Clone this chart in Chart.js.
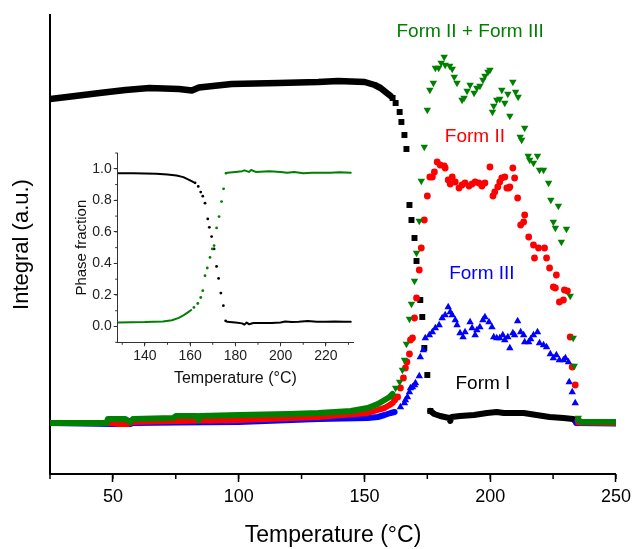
<!DOCTYPE html>
<html><head><meta charset="utf-8">
<script src="https://cdn.jsdelivr.net/npm/chart.js@4.4.1/dist/chart.umd.min.js"></script>
<style>
html,body{margin:0;padding:0;background:#fff;}
#wrap{position:relative;width:635px;height:549px;overflow:hidden;}
#main{position:absolute;left:0;top:0;}
#inset{position:absolute;left:40px;top:140px;}
</style></head><body>
<div id="wrap">
<canvas id="main" width="635" height="549" style="width:635px;height:549px"></canvas>
<canvas id="inset" width="330" height="260" style="width:330px;height:260px"></canvas>
</div>
<script>
const FONT = "'Liberation Sans', Arial, Helvetica, sans-serif";
const GREEN = '#008000', RED = '#ff0000', BLUE = '#0000ff', BLACK = '#000000';

// ---- Tick labels ----
const mainXTicks = [50, 100, 150, 200, 250];
const insetXTicks = [140, 160, 180, 200, 220];
const insetYTicks = [0.0, 0.2, 0.4, 0.6, 0.8, 1.0];

// ---- Main chart data: [Temperature (°C), Integral (a.u.)] ----
const formI_low = [[25,375],[35,378],[44.7,381],[55,384],[64.5,386],[76.3,385],[81.4,383.5],[84.2,386.5],[97.2,390],[115.8,391],[131.6,392],[139.5,393],[150.1,392],[154.1,389],[156.4,386],[158.4,382],[160.4,378]];
const formI_pts = [[161.2,376],[162.4,371],[164.0,362],[164.7,352],[165.9,339],[166.7,325],[167.9,269],[168.7,254],[169.9,236],[170.7,213],[172.2,174],[173.0,157],[173.8,126],[175.0,99],[176.2,63]];
const formI_high = [[176.2,63],[177.8,60],[180.1,58],[183.7,56],[184.1,53],[184.6,57],[188.0,58],[193.6,59],[198.7,61],[202.6,62],[205.4,61],[210.5,61],[213.3,61],[218.4,59],[223.6,57],[229.1,56],[233.0,55],[234.2,52],[235,51]];

const mix_low = [[25,51],[47.5,51],[48,55],[55,55],[57,52],[58,55],[74,56],[75,58],[83.5,58],[84,54],[84.5,58],[100,59],[120,60],[131.6,61],[144.6,63],[151.3,66],[155.3,70],[158.0,74],[160.0,77],[161.2,80]];
const mix_pts = [[162.4,86],[164.0,92],[165.1,104],[165.9,114],[166.7,130],[167.9,155],[168.7,170],[169.9,193],[170.7,221],[171.8,253],[172.6,293],[173.8,327],[175.0,364],[176.0,384],[177.4,391],[178.2,406],[179.5,406],[180.5,411],[181.7,417],[182.1,409],[183.9,408],[184.9,405],[185.7,397],[186.8,391],[188.8,374],[189.6,376],[190.8,383],[192.0,389],[193.6,381],[194.7,386],[195.9,388],[197.1,394],[197.9,398],[199.1,402],[199.9,404],[200.9,362],[201.4,368],[202.6,374],[203.8,375],[204.6,384],[205.8,371],[207.0,380],[207.8,358],[209.0,392],[210.1,382],[211.1,377],[211.9,337],[212.5,334],[213.7,346],[215.1,318],[215.7,314],[217.2,311],[218.8,318],[219.6,304],[221.2,304],[223.2,291],[224.1,274],[225.1,252],[225.9,246],[227.1,268],[228.3,232],[230.3,245],[231.8,178],[233.0,136],[233.4,108],[235.0,56]];
const mix_high = [[235.0,54],[236,52],[250,52]];

const formII_low = [[25,51],[50,51],[52,50],[56,50],[58,52],[75,53],[100,54],[131.6,57],[151.3,61],[155.3,64],[158.0,66],[160,69],[161.2,71]];
const formII_pts = [[162.0,74],[163.2,77],[164.3,86],[165.5,96],[166.3,106],[166.9,112],[167.9,120],[168.3,134],[169.1,136],[169.9,156],[170.7,176],[171.8,204],[172.6,226],[173.8,254],[175.0,278],[176.0,297],[177.0,297],[177.8,302],[178.9,312],[180.1,309],[181.7,308],[182.1,306],[183.3,294],[184.1,290],[184.9,297],[186.1,292],[187.6,286],[188.8,289],[190.0,291],[191.6,288],[192.8,290],[194.0,292],[195.5,291],[196.7,288],[197.9,291],[199.9,307],[201.1,278],[201.8,282],[203.0,287],[203.8,292],[204.6,296],[205.8,297],[206.6,286],[207.4,286],[207.8,287],[209.0,306],[209.7,296],[210.9,276],[212.1,249],[213.3,252],[213.7,259],[215.3,237],[217.2,229],[217.6,216],[219.2,226],[221.6,226],[222.4,216],[223.6,206],[225.1,187],[225.9,186],[226.3,199],[227.5,172],[229.1,174],[229.5,184],[230.7,183],[231.8,137],[232.6,107],[233.8,89],[235.0,54]];
const formII_high = [[235,51.5],[250,51]];

const formIII_low = [[25,51],[50,50],[57,50],[58,51],[75,51.5],[100,52],[131.6,55],[151.3,56],[155.3,57],[158.0,59],[160.4,61],[162,62]];
const formIII_pts = [[164.3,67],[165.9,71],[166.3,74],[167.1,77],[167.9,82],[168.3,86],[169.1,87],[169.9,89],[170.3,91],[171.8,98],[172.2,117],[173.4,124],[174.2,136],[175.8,139],[177.0,142],[178.2,146],[179.7,149],[180.9,156],[182.1,159],[183.3,167],[184.1,162],[184.9,159],[186.1,154],[186.8,149],[188.0,141],[189.2,137],[190.0,142],[192.0,152],[192.8,146],[194.0,139],[194.7,144],[195.9,147],[197.1,154],[197.9,157],[199.5,152],[200.7,147],[201.4,137],[202.6,136],[203.8,136],[205.0,139],[205.8,134],[207.0,137],[207.8,126],[209.0,141],[209.7,139],[210.9,153],[212.1,142],[213.3,139],[213.7,132],[215.3,132],[216.1,135],[217.2,139],[218.8,142],[219.6,131],[221.2,129],[222.4,127],[223.9,120],[225.1,116],[226.3,119],[227.5,114],[229.1,114],[229.9,116],[231.1,112],[231.4,92],[232.6,82],[233.8,71],[234.2,54]];
const formIII_high = [[234.2,51],[250,50.5]];

// ---- Inset data: [Temperature (°C), Phase fraction] ----
const insetI_low = [[128.3,0.972],[135,0.972],[140,0.970],[145,0.968],[150,0.963],[154,0.957],[157,0.947],[160,0.926],[161.5,0.915]];
const insetI_pts = [[162.2,0.911],[163.6,0.888],[164.7,0.852],[165.6,0.826],[166.6,0.782],[167.8,0.682],[168.5,0.629],[169.5,0.570],[170.6,0.492],[171.7,0.381],[172.6,0.305],[173.6,0.212],[174.7,0.132],[175.7,0.036]];
const insetI_high = [[176.3,0.030],[180,0.025],[183,0.020],[184,0.012],[185,0.025],[186,0.015],[188,0.022],[192,0.022],[196,0.022],[200,0.025],[202,0.032],[205,0.028],[208,0.030],[212,0.035],[216,0.030],[220,0.030],[224,0.032],[228,0.030],[231,0.030]];
const insetMix_low = [[128.3,0.026],[140,0.028],[148,0.032],[152,0.040],[155,0.055],[157,0.070],[159,0.090],[160.5,0.105]];
const insetMix_pts = [[161.7,0.121],[163.4,0.146],[164.7,0.184],[165.6,0.227],[166.6,0.322],[167.6,0.371],[168.8,0.438],[169.8,0.492],[170.6,0.513],[171.7,0.625],[172.8,0.697],[173.9,0.792],[174.8,0.873],[175.9,0.972]];
const insetMix_high = [[176.5,0.975],[180,0.980],[183,0.985],[184,0.990],[186,0.980],[187,0.992],[189,0.980],[195,0.985],[200,0.980],[203,0.975],[206,0.980],[210,0.972],[214,0.975],[218,0.975],[222,0.975],[226,0.978],[231,0.975]];

// ---- Text labels ----
const formLabels = [
  {text:'Form II + Form III', x:192.0, y:442, color:GREEN},
  {text:'Form II', x:193.9, y:337, color:RED},
  {text:'Form III', x:196.7, y:200, color:BLUE},
  {text:'Form I', x:197.1, y:90, color:BLACK}
];

const toXY = a => a.map(p => ({x:p[0], y:p[1]}));
const toTicks = a => a.map(v => ({value:v}));
function lineDs(data, color, w){
  return {data:toXY(data), showLine:true, borderColor:color, backgroundColor:color, borderWidth:w, pointRadius:0, pointHoverRadius:0, tension:0, borderCapStyle:'round', borderJoinStyle:'round'};
}
function markDs(data, color, style, r, rot){
  return {data:toXY(data), showLine:false, borderColor:color, backgroundColor:color, pointBackgroundColor:color, pointBorderColor:color, pointBorderWidth:0, pointStyle:style, pointRadius:r, pointHoverRadius:r, pointRotation:rot||0};
}

const minorTicks = {
  id:'minorTicks',
  afterDraw(chart, args, opts){
    const ctx = chart.ctx;
    const axes = opts.axes || {};
    for (const id of Object.keys(axes)){
      const c = axes[id], s = chart.scales[id];
      ctx.save(); ctx.strokeStyle = c.color; ctx.lineWidth = c.width;
      const i0 = Math.ceil(s.min/c.step - 1e-6), i1 = Math.floor(s.max/c.step + 1e-6);
      for (let i=i0;i<=i1;i++){
        const p = s.getPixelForValue(i*c.step);
        ctx.beginPath();
        if (s.isHorizontal()){ ctx.moveTo(p, s.top); ctx.lineTo(p, s.top + c.len); }
        else { ctx.moveTo(s.right, p); ctx.lineTo(s.right - c.len, p); }
        ctx.stroke();
      }
      ctx.restore();
    }
  }
};
const textLabels = {
  id:'textLabels',
  afterDatasetsDraw(chart, args, opts){
    if (!opts.items) return;
    const {ctx, scales:{x, y}} = chart;
    ctx.save(); ctx.textAlign='center'; ctx.textBaseline='middle';
    for (const l of opts.items){
      ctx.font = opts.size + 'px ' + FONT; ctx.fillStyle = l.color;
      ctx.fillText(l.text, x.getPixelForValue(l.x), y.getPixelForValue(l.y));
    }
    ctx.restore();
  }
};

new Chart(document.getElementById('main'), {
  type:'scatter',
  data:{datasets:[
    lineDs(mix_low, GREEN, 6), markDs(mix_pts, GREEN, 'triangle', 4.3, 180), lineDs(mix_high, GREEN, 6),
    lineDs(formII_low, RED, 6), markDs(formII_pts, RED, 'circle', 3.4), lineDs(formII_high, RED, 6),
    lineDs(formIII_low, BLUE, 6), markDs(formIII_pts, BLUE, 'triangle', 4.3), lineDs(formIII_high, BLUE, 6),
    lineDs(formI_low, BLACK, 6.5), markDs(formI_pts, BLACK, 'rect', 4.2), lineDs(formI_high, BLACK, 6)
  ]},
  options:{
    responsive:false, animation:false, events:[],
    layout:{padding:{top:15, right:15, left:0, bottom:0}},
    plugins:{
      legend:{display:false}, tooltip:{enabled:false},
      minorTicks:{axes:{x:{step:25, len:5, color:'#000', width:1.5}}},
      textLabels:{items:formLabels, size:19}
    },
    scales:{
      x:{type:'linear', min:25, max:250,
         afterBuildTicks(s){ s.ticks = toTicks(mainXTicks); },
         ticks:{color:'#000', font:{family:FONT, size:18}, padding:4, maxRotation:0},
         grid:{display:true, drawOnChartArea:false, drawTicks:true, tickLength:8, tickColor:'#000', tickWidth:1.5},
         border:{display:true, color:'#000', width:2},
         title:{display:true, text:'Temperature (°C)', color:'#000', font:{family:FONT, size:23}, padding:{top:0, bottom:0}},
         afterFit(s){ s.height = 75; }},
      y:{type:'linear', min:0, max:459,
         ticks:{display:false}, grid:{display:false},
         border:{display:true, color:'#000', width:2},
         title:{display:true, text:'Integral (a.u.)', color:'#000', font:{family:FONT, size:22}, padding:{top:9, bottom:0}},
         afterFit(s){ s.width = 50; }}
    }
  },
  plugins:[minorTicks, textLabels]
});

new Chart(document.getElementById('inset'), {
  type:'scatter',
  data:{datasets:[
    lineDs(insetMix_low, GREEN, 2), markDs(insetMix_pts, GREEN, 'circle', 1.4), lineDs(insetMix_high, GREEN, 2),
    lineDs(insetI_low, BLACK, 2), markDs(insetI_pts, BLACK, 'circle', 1.4), lineDs(insetI_high, BLACK, 2)
  ]},
  options:{
    responsive:false, animation:false, events:[],
    layout:{padding:{top:13, right:17, left:0, bottom:0}},
    plugins:{
      legend:{display:false}, tooltip:{enabled:false},
      minorTicks:{axes:{x:{step:10, len:2.5, color:'#333', width:1}, y:{step:0.1, len:2.5, color:'#333', width:1}}}
    },
    scales:{
      x:{type:'linear', min:128, max:232,
         afterBuildTicks(s){ s.ticks = toTicks(insetXTicks); },
         ticks:{color:'#222', font:{family:FONT, size:14}, padding:1, maxRotation:0},
         grid:{display:true, drawOnChartArea:false, drawTicks:true, tickLength:4, tickColor:'#333', tickWidth:1},
         border:{display:true, color:'#333', width:1},
         title:{display:true, text:'Temperature (°C)', color:'#111', font:{family:FONT, size:16}, padding:{top:0, bottom:12}},
         afterFit(s){ s.height = 57.7; }},
      y:{type:'linear', min:-0.1, max:1.1,
         afterBuildTicks(s){ s.ticks = toTicks(insetYTicks); },
         ticks:{color:'#222', font:{family:FONT, size:14}, padding:2, callback:v=>Number(v).toFixed(1)},
         grid:{display:true, drawOnChartArea:false, drawTicks:true, tickLength:4, tickColor:'#333', tickWidth:1},
         border:{display:true, color:'#333', width:1},
         title:{display:true, text:'Phase fraction', color:'#111', font:{family:FONT, size:15}, padding:{top:33, bottom:0}},
         afterFit(s){ s.width = 77.7; }}
    }
  },
  plugins:[minorTicks]
});
</script>
</body></html>
